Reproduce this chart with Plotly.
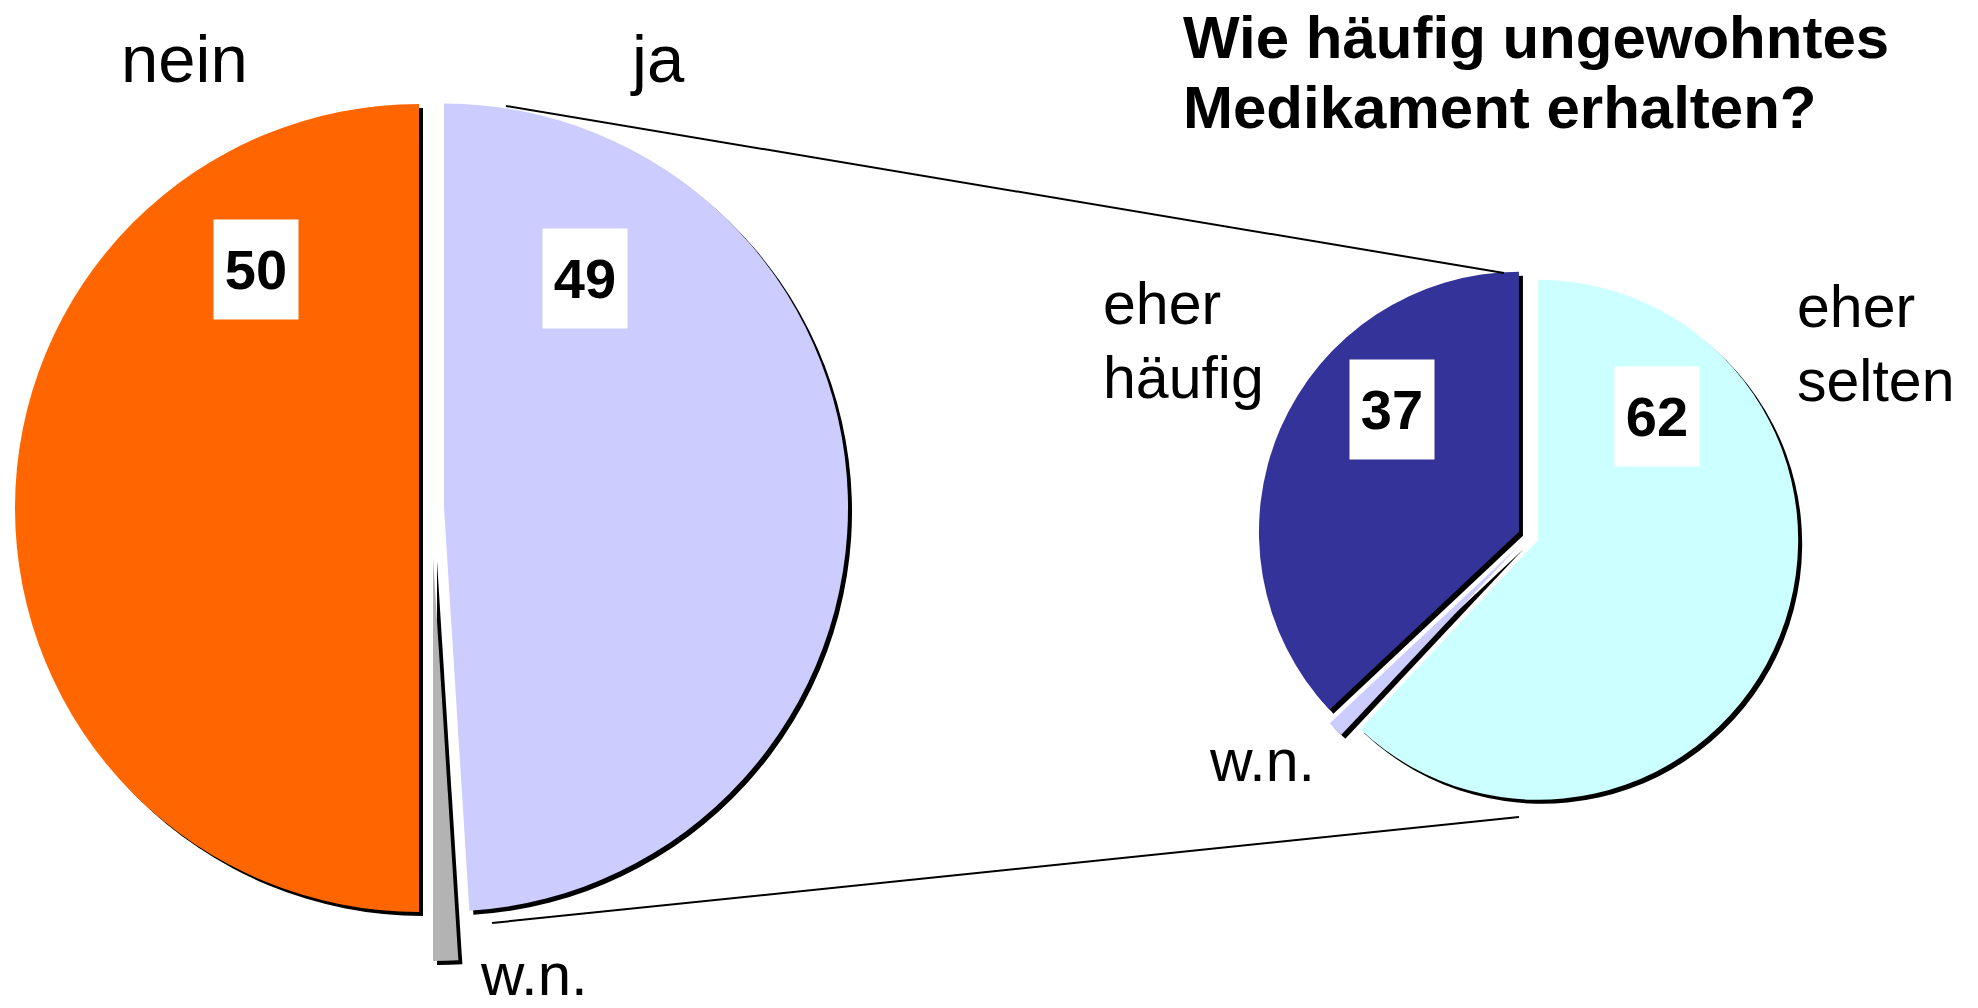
import plotly.graph_objects as go

W, H = 1978, 1008

# ---------------- data ----------------
main_categories = ["ja", "w.n.", "nein"]
main_values = [49, 1, 50]
sub_categories = ["eher selten", "w.n.", "eher häufig"]
sub_values = [62, 1, 37]
title_lines = ["Wie häufig ungewohntes", "Medikament erhalten?"]

# ---------------- styles ----------------
main_colors = ["#CCCCFF", "#B3B3B3", "#FF6600"]
sub_colors = ["#CCFFFF", "#CCCCFF", "#333399"]
CLEAR = "rgba(0,0,0,0)"
FONT = "Liberation Sans, Arial, sans-serif"
SH = 4  # drop-shadow offset in px

# geometry (pixels)
L_CX, L_CY, L_R = 431.5, 508, 404
L_PULL = 0.031
WN_CX, WN_CY = 433, 557
R_CX, R_CY, R_R = 1528.5, 536, 260
R_PULL = [0.04, 0.05, 0.04]


def domain(cx, cy, r, maxpull):
    h = r * (1 + maxpull)
    return dict(x=[(cx - h) / W, (cx + h) / W], y=[1 - (cy + h) / H, 1 - (cy - h) / H])


fig = go.Figure()


def add_pie(values, labels, colors, pull, cx, cy, r):
    mp = max(pull)
    shadow_colors = ["black" if c != CLEAR else CLEAR for c in colors]
    for cols, dx in ((shadow_colors, SH), (colors, 0)):
        fig.add_trace(go.Pie(
            values=values, labels=labels, sort=False, direction="clockwise", rotation=0,
            marker=dict(colors=cols, line=dict(width=0)), pull=pull,
            domain=domain(cx + dx, cy + dx, r, mp), textinfo="none",
            hoverinfo="label+value", showlegend=False))


# left pie: ja / nein (w.n. drawn as a separately exploded slice)
add_pie(main_values, main_categories,
        [main_colors[0], CLEAR, main_colors[2]], [L_PULL, 0, L_PULL], L_CX, L_CY, L_R)
add_pie(main_values, main_categories,
        [CLEAR, main_colors[1], CLEAR], [0, 0, 0], WN_CX, WN_CY, L_R)
# right pie
add_pie(sub_values, sub_categories, sub_colors, R_PULL, R_CX, R_CY, R_R)


def px(x, y):
    return x / W, 1 - y / H


annotations = []


def text(t, x, y, size, bold=False, xanchor="center"):
    ax, ay = px(x, y)
    annotations.append(dict(
        text=f"<b>{t}</b>" if bold else t, x=ax, y=ay, xref="paper", yref="paper",
        xanchor=xanchor, yanchor="middle", showarrow=False,
        font=dict(family=FONT, size=size, color="black")))


def box(v, x, y):
    ax, ay = px(x, y)
    annotations.append(dict(
        text=f"<b>{v}</b>", x=ax, y=ay, xref="paper", yref="paper",
        xanchor="center", yanchor="middle", showarrow=False, width=84, height=99,
        bgcolor="white", borderpad=0, valign="middle",
        font=dict(family=FONT, size=56, color="black")))


# title
text(title_lines[0], 1181, 38, 60, bold=True, xanchor="left")
text(title_lines[1], 1181, 108, 60, bold=True, xanchor="left")

# left pie category labels
text(main_categories[2], 184, 58, 67)
text(main_categories[0], 657, 58, 67)
text(main_categories[1], 534, 974, 60)

# right pie category labels (one line per word)
for i, w in enumerate(sub_categories[2].split(" ")):
    text(w, 1101, 304 + 74 * i, 59, xanchor="left")
for i, w in enumerate(sub_categories[0].split(" ")):
    text(w, 1795, 307 + 74 * i, 59, xanchor="left")
text(sub_categories[1], 1262, 761, 59)

# value boxes
box(main_values[2], 256, 270)
box(main_values[0], 585, 278)
box(sub_values[2], 1392, 409)
box(sub_values[0], 1657, 416)

# connector lines
shapes = []
for (x0, y0), (x1, y1) in [((506, 106), (1504, 273)), ((492, 923), (1519, 817))]:
    a0, b0 = px(x0, y0)
    a1, b1 = px(x1, y1)
    shapes.append(dict(type="line", xref="paper", yref="paper", x0=a0, y0=b0, x1=a1, y1=b1,
                       line=dict(color="black", width=2)))

fig.update_layout(
    width=W, height=H, margin=dict(l=0, r=0, t=0, b=0),
    paper_bgcolor="white", plot_bgcolor="white", showlegend=False,
    annotations=annotations, shapes=shapes,
)

fig.write_html("out.html", config={"displayModeBar": False},
               post_script="document.body.style.margin='0px';document.body.style.overflow='hidden';")
